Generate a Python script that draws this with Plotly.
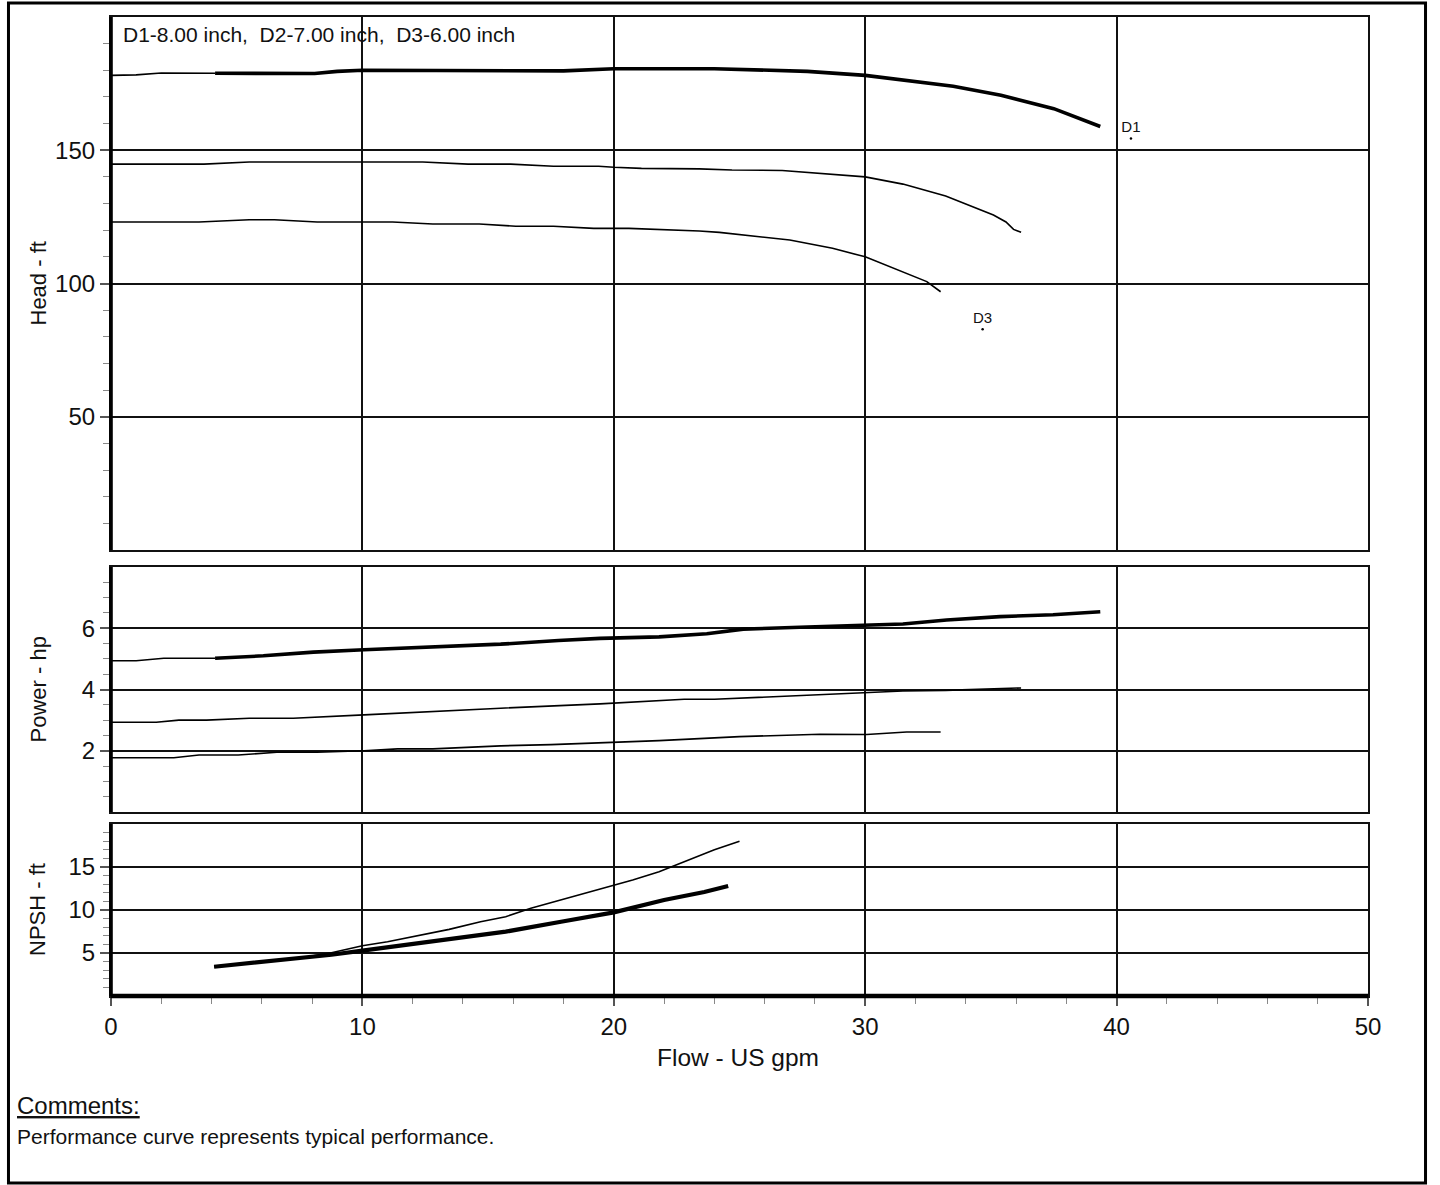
import plotly.graph_objects as go

# ---------------- data ----------------
# Head (ft) vs flow (US gpm)
D1_HEAD_X = [0, 1.0, 2.0, 4.14, 8.1, 9.0, 10.0, 18.0, 20.0, 24.0, 27.7, 30.0, 33.5, 35.4, 37.5, 39.35]
D1_HEAD_Y = [178.1, 178.3, 179.0, 178.9, 178.8, 179.6, 180.0, 179.8, 180.6, 180.6, 179.6, 178.1, 174.0, 170.6, 165.6, 158.9]

D2_HEAD_X = [0, 3.7, 5.5, 12.4, 14.2, 15.9, 17.6, 19.4, 20.0, 21.1, 23.4, 24.7, 26.7, 28.1, 30.0, 31.5, 33.2, 35.1, 35.6, 35.9, 36.2]
D2_HEAD_Y = [144.8, 144.8, 145.6, 145.6, 144.8, 144.8, 144.0, 144.0, 143.6, 143.2, 143.0, 142.6, 142.4, 141.5, 140.0, 137.3, 132.8, 125.7, 123.1, 120.3, 119.2]

D3_HEAD_X = [0, 3.5, 5.5, 6.5, 8.2, 11.2, 12.8, 14.65, 16.1, 17.6, 19.2, 20.6, 23.4, 24.2, 27.0, 28.7, 30.0, 31.4, 32.45, 33.0]
D3_HEAD_Y = [123.1, 123.1, 123.9, 123.9, 123.1, 123.1, 122.3, 122.3, 121.5, 121.5, 120.7, 120.7, 119.7, 119.2, 116.3, 113.2, 110.0, 104.7, 100.7, 96.9]

# Power (hp)
D1_POW_X = [0, 1.0, 2.1, 4.14, 6.06, 8.05, 10.06, 15.5, 16.0, 17.8, 19.45, 21.8, 23.7, 25.15, 27.7, 30.06, 31.5, 33.24, 35.36, 37.47, 39.35]
D1_POW_Y = [4.94, 4.94, 5.02, 5.02, 5.10, 5.22, 5.30, 5.48, 5.50, 5.60, 5.67, 5.72, 5.82, 5.97, 6.04, 6.11, 6.14, 6.27, 6.38, 6.44, 6.54]

D2_POW_X = [0, 1.8, 2.7, 3.8, 5.5, 7.25, 10.06, 11.5, 15.5, 19.45, 22.8, 24.0, 28.1, 30.06, 31.5, 33.2, 35.6, 36.2]
D2_POW_Y = [2.93, 2.93, 3.0, 3.0, 3.06, 3.06, 3.17, 3.23, 3.39, 3.53, 3.68, 3.68, 3.82, 3.90, 3.95, 3.97, 4.04, 4.05]

D3_POW_X = [0, 2.5, 3.5, 5.06, 6.6, 8.2, 10.06, 11.4, 12.8, 14.4, 15.5, 17.5, 19.45, 21.8, 25.0, 28.2, 30.06, 31.65, 33.0]
D3_POW_Y = [1.77, 1.77, 1.86, 1.86, 1.95, 1.95, 2.0, 2.06, 2.06, 2.13, 2.16, 2.20, 2.26, 2.33, 2.46, 2.54, 2.53, 2.61, 2.61]

# NPSH (ft)
NPSH_A_X = [4.1, 7.55, 8.77, 10.0, 11.8, 13.45, 15.7, 17.9, 18.9, 20.0, 22.0, 23.6, 24.55]
NPSH_A_Y = [3.4, 4.38, 4.8, 5.27, 5.93, 6.6, 7.48, 8.64, 9.2, 9.73, 11.16, 12.1, 12.8]

NPSH_B_X = [4.1, 7.5, 8.77, 10.0, 11.0, 12.4, 13.45, 14.7, 15.7, 16.7, 17.9, 19.1, 20.0, 20.75, 21.8, 22.6, 24.0, 25.0]
NPSH_B_Y = [3.4, 4.4, 5.03, 5.85, 6.3, 7.09, 7.75, 8.64, 9.22, 10.2, 11.16, 12.13, 12.9, 13.5, 14.45, 15.4, 17.0, 18.0]

MIN_FLOW_D1 = 4.14  # start of the bold (allowable) part of the D1 curve

# curve end labels
LABEL_TEXT = ["D1", "D3"]
LABEL_X = [40.57, 34.67]
LABEL_Y = [154.4, 82.8]

# axes ticks
X_TICKS = [0, 10, 20, 30, 40, 50]
X_MINOR = [2, 4, 6, 8, 12, 14, 16, 18, 22, 24, 26, 28, 32, 34, 36, 38, 42, 44, 46, 48]
HEAD_TICKS = [50, 100, 150]
HEAD_MINOR = [v for v in range(10, 200, 10) if v not in (50, 100, 150)]
POW_TICKS = [2, 4, 6]
POW_MINOR = [0.5, 1, 1.5, 2.5, 3, 3.5, 4.5, 5, 5.5, 6.5, 7, 7.5]
NPSH_TICKS = [5, 10, 15]
NPSH_MINOR = [v for v in range(1, 20) if v not in (5, 10, 15)]

TITLE_TEXT = "D1-8.00 inch,\u00a0 D2-7.00 inch,\u00a0 D3-6.00 inch"

# ---------------- layout helpers ----------------
W, H = 1440, 1185
FONT = "Liberation Sans, Arial, sans-serif"
# the capture of the page is slightly squeezed horizontally; place things so that
# they land at the wanted pixel columns in the photograph
SHOT_SCALE = 0.9861
SHOT_OFFSET = 7.0


def px(x):
    v = (x - SHOT_OFFSET) / SHOT_SCALE
    v = min(max(v, 0.0), W)
    return v / W


def py(y):
    return 1 - y / H


XDOM = [px(111), px(1368)]
HEAD_DOM = [py(550), py(17)]
POW_DOM = [py(812), py(567)]
NPSH_DOM = [py(996), py(824)]

THIN = 1.6
THICK = 3.6

fig = go.Figure()


def add_line(x, y, xa, ya, width):
    fig.add_trace(go.Scatter(x=x, y=y, xaxis=xa, yaxis=ya, mode="lines",
                             line=dict(color="black", width=width),
                             hoverinfo="skip", showlegend=False))


def split_d1(xs, ys):
    thin_x = [a for a in xs if a <= MIN_FLOW_D1]
    thin_y = ys[:len(thin_x)]
    k = len(thin_x) - 1
    return thin_x, thin_y, xs[k:], ys[k:]


# Head
tx, ty, bx, by = split_d1(D1_HEAD_X, D1_HEAD_Y)
add_line(tx, ty, "x", "y", THIN)
add_line(bx, by, "x", "y", THICK)
add_line(D2_HEAD_X, D2_HEAD_Y, "x", "y", THIN)
add_line(D3_HEAD_X, D3_HEAD_Y, "x", "y", THIN)

fig.add_trace(go.Scatter(x=LABEL_X, y=LABEL_Y, xaxis="x", yaxis="y",
                         mode="markers+text", text=LABEL_TEXT,
                         textposition="top center",
                         textfont=dict(family=FONT, size=15, color="#111"),
                         marker=dict(size=2.5, color="black"),
                         hoverinfo="skip", showlegend=False))

# Power
tx, ty, bx, by = split_d1(D1_POW_X, D1_POW_Y)
add_line(tx, ty, "x2", "y2", THIN)
add_line(bx, by, "x2", "y2", THICK)
add_line(D2_POW_X, D2_POW_Y, "x2", "y2", THIN)
add_line(D3_POW_X, D3_POW_Y, "x2", "y2", THIN)

# NPSH
add_line(NPSH_B_X, NPSH_B_Y, "x3", "y3", THIN)
add_line(NPSH_A_X, NPSH_A_Y, "x3", "y3", THICK + 0.6)

grid = dict(showgrid=True, gridcolor="#111", gridwidth=1.6, zeroline=False,
            showline=True, mirror=True, linecolor="#111", linewidth=2.2)

xcommon = dict(domain=XDOM, range=[0, 50], tickmode="array", tickvals=X_TICKS, **grid)

tickfont = dict(family=FONT, size=24, color="#111")


def yaxis(dom, rng, ticks, minor, anchor):
    return dict(domain=dom, range=rng, anchor=anchor, tickmode="array", tickvals=ticks,
                ticktext=[str(t) for t in ticks], ticks="outside", ticklen=9,
                tickwidth=1.6, tickcolor="#555", tickfont=tickfont,
                minor=dict(tickmode="array", tickvals=minor, ticks="outside",
                           ticklen=6, tickwidth=1.4, tickcolor="#888", showgrid=False),
                **grid)


fig.update_layout(
    width=W, height=H,
    margin=dict(l=0, r=0, t=0, b=0),
    paper_bgcolor="white", plot_bgcolor="white",
    font=dict(family=FONT, color="#111"),
    showlegend=False,
    xaxis=dict(anchor="y", showticklabels=False, ticks="", **xcommon),
    xaxis2=dict(anchor="y2", matches="x", showticklabels=False, ticks="", **xcommon),
    xaxis3=dict(anchor="y3", matches="x", showticklabels=True, ticks="outside",
                ticklen=8, tickwidth=1.6, tickcolor="#555", tickfont=tickfont,
                minor=dict(tickmode="array", tickvals=X_MINOR, ticks="outside",
                           ticklen=6, tickwidth=1.4, tickcolor="#888", showgrid=False),
                **xcommon),
    yaxis=yaxis(HEAD_DOM, [0, 200], HEAD_TICKS, HEAD_MINOR, "x"),
    yaxis2=yaxis(POW_DOM, [0, 8], POW_TICKS, POW_MINOR, "x2"),
    yaxis3=yaxis(NPSH_DOM, [0, 20], NPSH_TICKS, NPSH_MINOR, "x3"),
)

shapes = []
for xr, yr in (("x", "y"), ("x2", "y2"), ("x3", "y3")):
    shapes.append(dict(type="line", xref=f"{xr} domain", yref=f"{yr} domain",
                       x0=0, x1=0, y0=0, y1=1, line=dict(color="black", width=3.6)))
shapes.append(dict(type="line", xref="x3 domain", yref="y3 domain",
                   x0=0, x1=1, y0=0, y1=0, line=dict(color="black", width=4.6)))
# outer frame
shapes.append(dict(type="rect", xref="paper", yref="paper",
                   x0=1.5 / W, x1=(W - 1.5) / W, y0=py(1183), y1=py(3),
                   line=dict(color="black", width=3), fillcolor="rgba(0,0,0,0)"))
fig.update_layout(shapes=shapes)

ann = [
    dict(text=TITLE_TEXT, x=px(121), y=py(35), xanchor="left", yanchor="middle",
         font=dict(size=21)),
    dict(text="Head - ft", x=px(38), y=(HEAD_DOM[0] + HEAD_DOM[1]) / 2, textangle=-90,
         xanchor="center", yanchor="middle", font=dict(size=22)),
    dict(text="Power - hp", x=px(38), y=(POW_DOM[0] + POW_DOM[1]) / 2, textangle=-90,
         xanchor="center", yanchor="middle", font=dict(size=22)),
    dict(text="NPSH - ft", x=px(38), y=(NPSH_DOM[0] + NPSH_DOM[1]) / 2, textangle=-90,
         xanchor="center", yanchor="middle", font=dict(size=22)),
    dict(text="Flow - US gpm", x=px(738), y=py(1057), xanchor="center", yanchor="middle",
         font=dict(size=24.5)),
    dict(text='<span style="text-decoration:underline">Comments:</span>', x=px(15), y=py(1105),
         xanchor="left", yanchor="middle", font=dict(size=24)),
    dict(text="Performance curve represents typical performance.", x=px(15), y=py(1136),
         xanchor="left", yanchor="middle", font=dict(size=21)),
]
for a in ann:
    a.update(xref="paper", yref="paper", showarrow=False)
    a["font"].update(family=FONT, color="#111")
fig.update_layout(annotations=ann)

POST = (
    "var s=document.createElement('style');"
    "s.textContent='html,body{margin:0!important;padding:0!important;overflow:hidden!important;"
    "width:1440px;height:1185px;} .modebar-container{display:none!important;}';"
    "document.head.appendChild(s);"
)

fig.write_html("out.html", config={"displayModeBar": False}, post_script=POST)
